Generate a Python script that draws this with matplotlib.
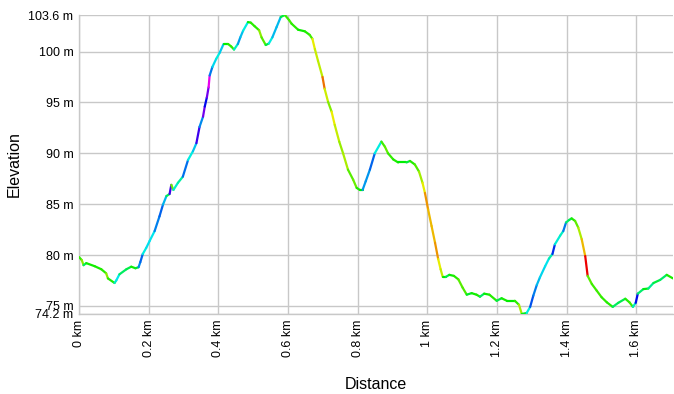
import numpy as np
import matplotlib
matplotlib.use("Agg")
import matplotlib.pyplot as plt
from matplotlib.collections import LineCollection
from matplotlib.colors import hsv_to_rgb

# Track profile: distance (km) and elevation (m)
distance = [0.000, 0.008, 0.013, 0.021, 0.045, 0.064, 0.078, 0.083, 0.102, 0.107,
            0.116, 0.136, 0.150, 0.162, 0.171, 0.176, 0.183, 0.193, 0.203, 0.217,
            0.231, 0.241, 0.251, 0.260, 0.265, 0.271, 0.284, 0.298, 0.313, 0.327,
            0.337, 0.346, 0.356, 0.361, 0.367, 0.372, 0.375, 0.383, 0.394, 0.404,
            0.415, 0.428, 0.437, 0.445, 0.456, 0.463, 0.471, 0.485, 0.493, 0.504,
            0.517, 0.524, 0.536, 0.545, 0.555, 0.567, 0.579, 0.591, 0.603, 0.610,
            0.629, 0.648, 0.662, 0.670, 0.677, 0.686, 0.699, 0.705, 0.715, 0.725,
            0.734, 0.747, 0.758, 0.772, 0.787, 0.797, 0.806, 0.814, 0.823, 0.835,
            0.849, 0.868, 0.878, 0.887, 0.902, 0.916, 0.940, 0.950, 0.964, 0.976,
            0.986, 0.993, 1.002, 1.012, 1.022, 1.031, 1.038, 1.044, 1.053, 1.063,
            1.076, 1.089, 1.101, 1.113, 1.127, 1.141, 1.151, 1.163, 1.178, 1.199,
            1.213, 1.228, 1.251, 1.263, 1.271, 1.285, 1.295, 1.304, 1.314, 1.323,
            1.338, 1.349, 1.359, 1.366, 1.381, 1.390, 1.398, 1.407, 1.414, 1.424,
            1.433, 1.443, 1.453, 1.460, 1.472, 1.486, 1.500, 1.515, 1.532, 1.548,
            1.568, 1.580, 1.590, 1.598, 1.604, 1.620, 1.634, 1.649, 1.668, 1.687,
            1.705]
elevation = [79.8, 79.5, 79.0, 79.2, 78.9, 78.6, 78.2, 77.7, 77.25, 77.5,
             78.1, 78.6, 78.85, 78.7, 78.8, 79.3, 80.1, 80.7, 81.4, 82.35,
             83.8, 84.95, 85.8, 86.0, 86.9, 86.4, 87.1, 87.7, 89.35, 90.2,
             91.0, 92.6, 93.6, 94.6, 95.5, 96.5, 97.65, 98.5, 99.3, 99.9,
             100.75, 100.75, 100.5, 100.2, 100.75, 101.4, 102.05, 102.9, 102.85, 102.5,
             102.1, 101.4, 100.65, 100.8, 101.4, 102.4, 103.4, 103.6, 103.1, 102.75,
             102.15, 102.0, 101.65, 101.25, 100.25, 99.1, 97.5, 96.35, 95.05, 94.1,
             92.8, 91.15, 90.0, 88.4, 87.4, 86.6, 86.4, 86.4, 87.25, 88.4,
             90.0, 91.15, 90.65, 90.0, 89.4, 89.1, 89.1, 89.25, 88.9, 88.2,
             87.1, 86.1, 84.5, 82.85, 81.2, 79.6, 78.6, 77.85, 77.85, 78.05,
             77.95, 77.6, 76.8, 76.1, 76.25, 76.1, 75.9, 76.2, 76.1, 75.5,
             75.75, 75.5, 75.5, 75.1, 74.2, 74.3, 74.9, 76.0, 77.05, 77.8,
             78.9, 79.65, 80.1, 81.05, 81.9, 82.35, 83.2, 83.45, 83.6, 83.35,
             82.7, 81.55, 79.9, 77.95, 77.15, 76.5, 75.85, 75.35, 74.9, 75.3,
             75.7, 75.35, 74.9, 75.3, 76.2, 76.65, 76.7, 77.25, 77.55, 78.05,
             77.7]

x_ticks = [0, 0.2, 0.4, 0.6, 0.8, 1.0, 1.2, 1.4, 1.6]
y_ticks = [75, 80, 85, 90, 95, 100]

GRID = "#c8c8c8"

# grade (%) -> hue: red steep down, green flat, blue / magenta steep up
GRADE_STOPS = [-25, -19, -15, -9, 0, 5, 10, 16, 25]
HUE_STOPS = [0.0, 0.08, 0.16, 0.25, 0.333, 0.47, 0.57, 0.68, 0.83]


# Colour each segment by its gradient
def gradient_colors(x, y):
    dx = np.diff(x) * 1000.0
    dy = np.diff(y)
    grade = 100.0 * dy / dx
    hue = np.interp(grade, GRADE_STOPS, HUE_STOPS)
    hsv = np.stack([hue, np.ones_like(hue), np.full_like(hue, 0.93)], axis=1)
    return hsv_to_rgb(hsv)


def main():
    plt.rcParams["font.family"] = ["Liberation Sans", "DejaVu Sans"]
    x = np.array(distance)
    y = np.array(elevation)

    fig = plt.figure(figsize=(6.74, 3.94), dpi=100)
    ax = fig.add_axes([79 / 674, 1 - 314 / 394, 594 / 674, 299 / 394])

    pts = np.column_stack([x, y]).reshape(-1, 1, 2)
    segs = np.concatenate([pts[:-1], pts[1:]], axis=1)
    lc = LineCollection(segs, colors=gradient_colors(x, y), linewidths=1.6,
                        capstyle="round", zorder=3)
    ax.add_collection(lc)

    ymin, ymax = y.min(), y.max()
    ax.set_xlim(0, x.max())
    ax.set_ylim(ymin, ymax)

    yt = [ymin] + y_ticks + [ymax]
    ax.set_yticks(yt)
    ax.set_yticklabels(["{:g} m".format(round(v, 1)) for v in yt])
    ax.set_xticks(x_ticks)
    ax.set_xticklabels(["{:g} km".format(v) for v in x_ticks], rotation=90)

    ax.tick_params(length=0, labelsize=9, colors="black", pad=4)
    ax.grid(True, color=GRID, linewidth=1.0)
    ax.set_axisbelow(True)
    for side in ["top", "right"]:
        ax.spines[side].set_visible(False)
    for side in ["left", "bottom"]:
        ax.spines[side].set_color(GRID)
        ax.spines[side].set_linewidth(1.0)

    ax.set_ylabel("Elevation", fontsize=11.5)
    ax.set_xlabel("Distance", fontsize=11.5)
    ax.yaxis.set_label_coords(-0.097, 0.5)
    ax.xaxis.set_label_coords(0.5, -0.212)

    fig.savefig("out.png", dpi=100)


if __name__ == "__main__":
    main()
